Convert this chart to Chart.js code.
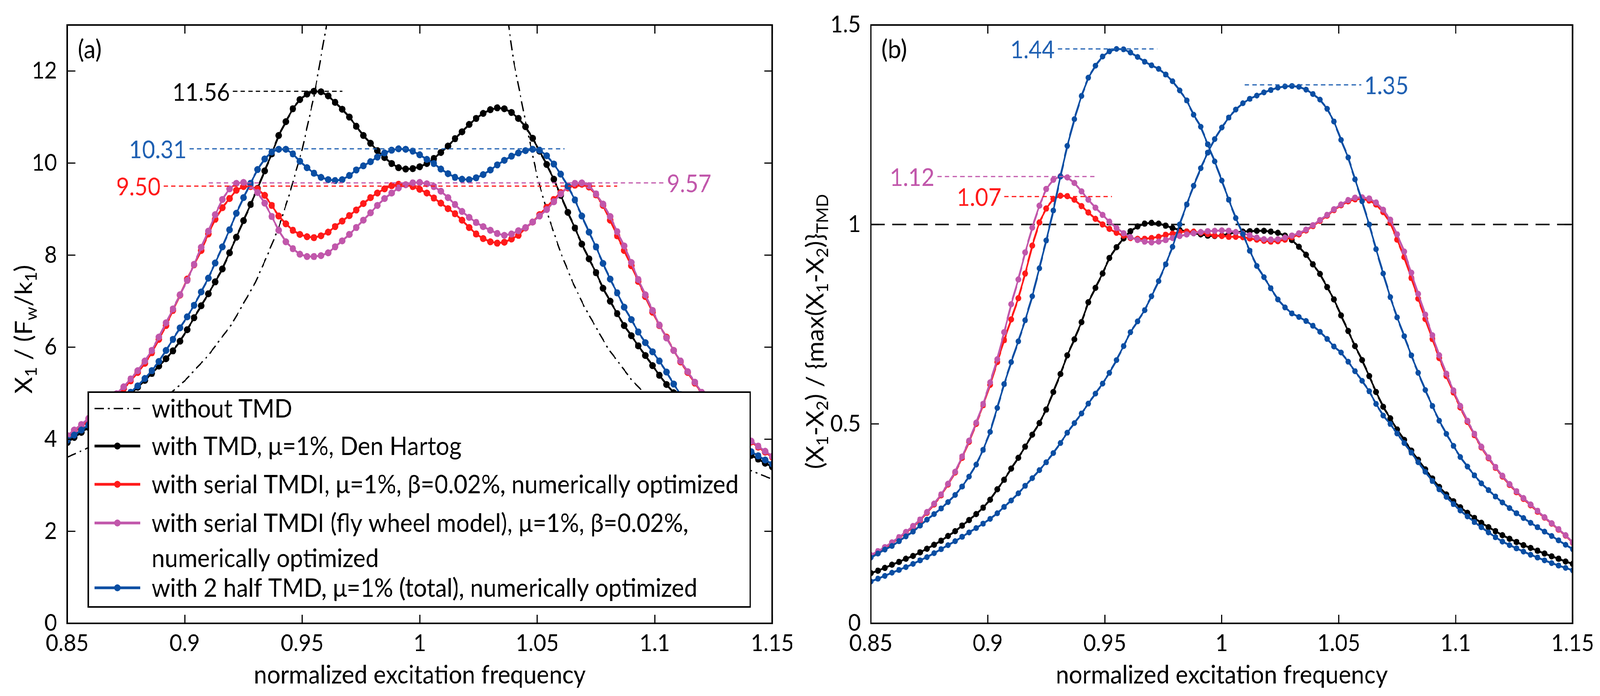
<!DOCTYPE html>
<html lang="en">
<head>
    <meta charset="UTF-8">
    <title>TMD / TMDI frequency response</title>
    <script src="https://cdn.jsdelivr.net/npm/chart.js"></script>
    <style>
        html, body { margin: 0; padding: 0; background: #fff; overflow: hidden; }
        #wrap { position: absolute; left: 0; top: 0; width: 4402px; height: 1782px; transform-origin: 0 0; }
        .panel { position: absolute; top: 0; height: 1782px; }
        #panelA { left: 0; width: 2200px; }
        #panelB { left: 2200px; width: 2202px; }
    </style>
</head>
<body>
<div id="wrap">
    <div class="panel" id="panelA"><canvas id="chartA" width="2200" height="1782"></canvas></div>
    <div class="panel" id="panelB"><canvas id="chartB" width="2202" height="1782"></canvas></div>
</div>

<script>
    // normalized excitation frequency (sample points of the computed curves)
    const freq = [
        0.850, 0.853, 0.856, 0.859, 0.862, 0.865, 0.868, 0.871, 0.874, 0.877,
        0.880, 0.883, 0.886, 0.889, 0.892, 0.895, 0.898, 0.901, 0.904, 0.907,
        0.910, 0.913, 0.916, 0.919, 0.922, 0.925, 0.928, 0.931, 0.934, 0.937,
        0.940, 0.943, 0.946, 0.949, 0.952, 0.955, 0.958, 0.961, 0.964, 0.967,
        0.970, 0.973, 0.976, 0.979, 0.982, 0.985, 0.988, 0.991, 0.994, 0.997,
        1.000, 1.003, 1.006, 1.009, 1.012, 1.015, 1.018, 1.021, 1.024, 1.027,
        1.030, 1.033, 1.036, 1.039, 1.042, 1.045, 1.048, 1.051, 1.054, 1.057,
        1.060, 1.063, 1.066, 1.069, 1.072, 1.075, 1.078, 1.081, 1.084, 1.087,
        1.090, 1.093, 1.096, 1.099, 1.102, 1.105, 1.108, 1.111, 1.114, 1.117,
        1.120, 1.123, 1.126, 1.129, 1.132, 1.135, 1.138, 1.141, 1.144, 1.147,
        1.150
    ];

    // (a) X1 / (Fw/k1)
    const freqNoTmd = [0.85, 0.86, 0.87, 0.88, 0.89, 0.90, 0.91, 0.92, 0.93, 0.935, 0.94, 0.945, 0.95, 0.955, 0.96, 0.965,
        1.0, 1.035, 1.04, 1.045, 1.05, 1.055, 1.06, 1.065, 1.07, 1.08, 1.09, 1.10, 1.11, 1.12, 1.13, 1.14, 1.15];
    const ampNoTmd = [3.61, 3.84, 4.12, 4.45, 4.83, 5.27, 5.82, 6.5, 7.4, 7.98, 8.6, 9.4, 10.3, 11.45, 12.9, 14.7,
        null, 14.0, 12.2, 10.9, 9.7, 8.8, 8.05, 7.42, 6.88, 5.98, 5.3, 4.76, 4.31, 3.94, 3.62, 3.34, 3.13];

    const ampDenHartog = [
        3.93, 4.04, 4.15, 4.26, 4.37, 4.49, 4.61, 4.73, 4.86, 4.99,
        5.13, 5.28, 5.43, 5.59, 5.75, 5.92, 6.13, 6.38, 6.64, 6.90,
        7.16, 7.42, 7.70, 8.05, 8.39, 8.75, 9.10, 9.45, 9.83, 10.20,
        10.60, 10.90, 11.18, 11.38, 11.50, 11.56, 11.55, 11.46, 11.32, 11.17,
        11.00, 10.80, 10.60, 10.43, 10.27, 10.12, 9.99, 9.90, 9.87, 9.88,
        9.92, 9.99, 10.10, 10.23, 10.37, 10.53, 10.68, 10.84, 10.97, 11.08,
        11.16, 11.20, 11.18, 11.10, 10.97, 10.79, 10.54, 10.26, 9.97, 9.65,
        9.30, 8.93, 8.59, 8.24, 7.92, 7.62, 7.28, 7.00, 6.73, 6.47,
        6.25, 6.03, 5.82, 5.60, 5.39, 5.19, 5.01, 4.84, 4.68, 4.53,
        4.39, 4.26, 4.14, 4.03, 3.92, 3.82, 3.73, 3.65, 3.57, 3.48,
        3.40
    ];
    const ampSerialTmdi = [
        4.03, 4.15, 4.27, 4.40, 4.53, 4.67, 4.81, 4.95, 5.10, 5.27,
        5.45, 5.65, 5.88, 6.17, 6.47, 6.80, 7.13, 7.48, 7.79, 8.10,
        8.46, 8.78, 9.03, 9.23, 9.41, 9.49, 9.49, 9.43, 9.30, 9.08,
        8.85, 8.68, 8.54, 8.45, 8.40, 8.38, 8.42, 8.50, 8.62, 8.74,
        8.86, 8.98, 9.12, 9.25, 9.35, 9.44, 9.51, 9.54, 9.53, 9.49,
        9.43, 9.35, 9.24, 9.13, 9.01, 8.90, 8.76, 8.60, 8.46, 8.36,
        8.29, 8.26, 8.28, 8.35, 8.43, 8.59, 8.72, 8.88, 9.04, 9.21,
        9.36, 9.46, 9.52, 9.54, 9.48, 9.31, 9.08, 8.76, 8.42, 8.10,
        7.77, 7.43, 7.10, 6.76, 6.47, 6.22, 5.93, 5.68, 5.45, 5.22,
        5.00, 4.81, 4.63, 4.46, 4.31, 4.18, 4.05, 3.94, 3.83, 3.72,
        3.61
    ];
    const ampFlyWheel = [
        4.08, 4.20, 4.32, 4.45, 4.58, 4.71, 4.85, 4.99, 5.14, 5.31,
        5.49, 5.70, 5.93, 6.22, 6.53, 6.83, 7.14, 7.45, 7.80, 8.17,
        8.52, 8.88, 9.21, 9.44, 9.56, 9.58, 9.51, 9.36, 9.13, 8.84,
        8.54, 8.29, 8.14, 8.02, 7.97, 7.97, 7.99, 8.05, 8.18, 8.31,
        8.45, 8.60, 8.76, 8.92, 9.08, 9.23, 9.35, 9.46, 9.53, 9.57,
        9.58, 9.55, 9.49, 9.39, 9.25, 9.10, 8.95, 8.82, 8.71, 8.62,
        8.54, 8.47, 8.43, 8.46, 8.53, 8.60, 8.72, 8.85, 8.99, 9.16,
        9.33, 9.48, 9.56, 9.57, 9.51, 9.33, 9.11, 8.84, 8.51, 8.20,
        7.84, 7.47, 7.14, 6.80, 6.48, 6.20, 5.93, 5.70, 5.47, 5.24,
        5.02, 4.83, 4.65, 4.48, 4.33, 4.20, 4.07, 3.96, 3.85, 3.74,
        3.63
    ];
    const ampTwoHalf = [
        3.98, 4.09, 4.20, 4.31, 4.42, 4.53, 4.65, 4.77, 4.89, 5.02,
        5.16, 5.32, 5.49, 5.69, 5.93, 6.17, 6.42, 6.66, 6.91, 7.20,
        7.50, 7.83, 8.18, 8.55, 8.91, 9.25, 9.56, 9.86, 10.09, 10.24,
        10.30, 10.30, 10.20, 10.04, 9.90, 9.78, 9.69, 9.64, 9.62, 9.64,
        9.73, 9.85, 9.94, 10.03, 10.13, 10.22, 10.28, 10.31, 10.30, 10.26,
        10.18, 10.08, 9.99, 9.87, 9.77, 9.69, 9.65, 9.64, 9.68, 9.75,
        9.85, 9.96, 10.06, 10.15, 10.22, 10.27, 10.30, 10.28, 10.16, 9.98,
        9.76, 9.50, 9.20, 8.85, 8.50, 8.18, 7.82, 7.48, 7.18, 6.87,
        6.60, 6.33, 6.10, 5.90, 5.70, 5.46, 5.20, 4.97, 4.78, 4.61,
        4.46, 4.32, 4.19, 4.08, 3.98, 3.89, 3.81, 3.73, 3.64, 3.55,
        3.46
    ];

    // (b) (X1-X2) / {max(X1-X2)}TMD
    const strokeDenHartog = [
        0.126, 0.132, 0.139, 0.147, 0.154, 0.162, 0.169, 0.178, 0.187, 0.197,
        0.207, 0.219, 0.231, 0.245, 0.259, 0.274, 0.290, 0.310, 0.336, 0.360,
        0.388, 0.415, 0.443, 0.473, 0.502, 0.536, 0.580, 0.625, 0.672, 0.712,
        0.755, 0.805, 0.841, 0.877, 0.916, 0.943, 0.965, 0.983, 0.995, 1.002,
        1.004, 1.002, 0.997, 0.991, 0.986, 0.982, 0.978, 0.975, 0.972, 0.971,
        0.972, 0.977, 0.980, 0.982, 0.983, 0.984, 0.984, 0.982, 0.979, 0.972,
        0.961, 0.944, 0.924, 0.900, 0.876, 0.843, 0.812, 0.772, 0.733, 0.695,
        0.660, 0.620, 0.580, 0.543, 0.514, 0.486, 0.460, 0.433, 0.410, 0.386,
        0.363, 0.342, 0.323, 0.306, 0.291, 0.277, 0.264, 0.252, 0.241, 0.231,
        0.221, 0.212, 0.204, 0.196, 0.189, 0.182, 0.175, 0.168, 0.162, 0.155,
        0.149
    ];
    const strokeSerialTmdi = [
        0.169, 0.179, 0.189, 0.201, 0.214, 0.227, 0.242, 0.258, 0.277, 0.298,
        0.321, 0.348, 0.378, 0.415, 0.455, 0.500, 0.547, 0.598, 0.655, 0.710,
        0.762, 0.815, 0.877, 0.947, 1.005, 1.040, 1.064, 1.072, 1.071, 1.062,
        1.046, 1.030, 1.014, 1.000, 0.989, 0.979, 0.972, 0.966, 0.964, 0.964,
        0.966, 0.969, 0.974, 0.977, 0.981, 0.982, 0.982, 0.979, 0.976, 0.972,
        0.971, 0.969, 0.969, 0.968, 0.965, 0.962, 0.959, 0.957, 0.958, 0.962,
        0.968, 0.975, 0.985, 0.996, 1.009, 1.022, 1.036, 1.048, 1.058, 1.063,
        1.064, 1.060, 1.050, 1.031, 1.004, 0.962, 0.918, 0.866, 0.814, 0.763,
        0.713, 0.665, 0.620, 0.579, 0.541, 0.505, 0.472, 0.441, 0.414, 0.390,
        0.368, 0.347, 0.329, 0.312, 0.296, 0.280, 0.265, 0.250, 0.235, 0.220,
        0.202
    ];
    const strokeFlyWheel = [
        0.171, 0.181, 0.191, 0.203, 0.216, 0.229, 0.244, 0.260, 0.279, 0.300,
        0.323, 0.350, 0.380, 0.418, 0.458, 0.503, 0.550, 0.604, 0.662, 0.730,
        0.800, 0.862, 0.930, 0.992, 1.047, 1.089, 1.112, 1.121, 1.118, 1.104,
        1.083, 1.062, 1.042, 1.024, 1.007, 0.991, 0.978, 0.968, 0.961, 0.957,
        0.955, 0.957, 0.961, 0.966, 0.971, 0.975, 0.978, 0.981, 0.983, 0.984,
        0.985, 0.984, 0.981, 0.977, 0.973, 0.967, 0.963, 0.962, 0.963, 0.967,
        0.972, 0.978, 0.987, 0.998, 1.011, 1.024, 1.038, 1.050, 1.061, 1.067,
        1.068, 1.065, 1.055, 1.037, 1.012, 0.975, 0.932, 0.879, 0.826, 0.774,
        0.722, 0.672, 0.626, 0.584, 0.545, 0.508, 0.475, 0.443, 0.416, 0.392,
        0.370, 0.349, 0.331, 0.314, 0.298, 0.282, 0.266, 0.251, 0.236, 0.221,
        0.203
    ];
    const strokeHalfLow = [
        0.165, 0.175, 0.185, 0.194, 0.206, 0.218, 0.230, 0.245, 0.260, 0.274,
        0.288, 0.304, 0.322, 0.343, 0.368, 0.398, 0.435, 0.480, 0.540, 0.600,
        0.655, 0.707, 0.760, 0.820, 0.890, 0.960, 1.035, 1.120, 1.197, 1.264,
        1.322, 1.368, 1.398, 1.421, 1.434, 1.440, 1.439, 1.431, 1.420, 1.408,
        1.399, 1.390, 1.376, 1.359, 1.336, 1.311, 1.275, 1.245, 1.201, 1.158,
        1.110, 1.062, 1.016, 0.976, 0.934, 0.896, 0.868, 0.840, 0.812, 0.792,
        0.777, 0.768, 0.758, 0.746, 0.731, 0.713, 0.694, 0.679, 0.656, 0.632,
        0.608, 0.582, 0.550, 0.521, 0.500, 0.476, 0.452, 0.428, 0.404, 0.380,
        0.357, 0.336, 0.317, 0.299, 0.283, 0.268, 0.254, 0.241, 0.228, 0.216,
        0.205, 0.196, 0.188, 0.180, 0.172, 0.165, 0.158, 0.151, 0.145, 0.139,
        0.133
    ];
    const strokeHalfHigh = [
        0.105, 0.112, 0.119, 0.127, 0.134, 0.141, 0.149, 0.158, 0.166, 0.176,
        0.186, 0.196, 0.206, 0.217, 0.228, 0.239, 0.250, 0.262, 0.276, 0.292,
        0.308, 0.326, 0.345, 0.364, 0.384, 0.404, 0.427, 0.452, 0.478, 0.502,
        0.526, 0.551, 0.576, 0.601, 0.628, 0.660, 0.695, 0.730, 0.757, 0.785,
        0.820, 0.858, 0.900, 0.944, 1.000, 1.050, 1.097, 1.141, 1.180, 1.214,
        1.243, 1.268, 1.288, 1.304, 1.315, 1.323, 1.331, 1.337, 1.343, 1.346,
        1.347, 1.345, 1.338, 1.327, 1.313, 1.290, 1.258, 1.212, 1.168, 1.113,
        1.058, 1.000, 0.938, 0.877, 0.818, 0.767, 0.720, 0.672, 0.628, 0.585,
        0.545, 0.508, 0.475, 0.445, 0.417, 0.393, 0.371, 0.351, 0.334, 0.318,
        0.303, 0.289, 0.276, 0.264, 0.252, 0.241, 0.230, 0.219, 0.208, 0.197,
        0.186
    ];

    const xTicks = [0.85, 0.9, 0.95, 1, 1.05, 1.1, 1.15];
    const yTicksA = [0, 2, 4, 6, 8, 10, 12];
    const yTicksB = [0, 0.5, 1, 1.5];
    const peakValuesA = [11.56, 10.31, 9.50, 9.57];
    const peakValuesB = [1.44, 1.12, 1.07, 1.35];

    const legendLines = [
        'without TMD',
        'with TMD, \u03bc=1%, Den Hartog',
        'with serial TMDI, \u03bc=1%, \u03b2=0.02%, numerically optimized',
        'with serial TMDI (fly wheel model), \u03bc=1%, \u03b2=0.02%,',
        'numerically optimized',
        'with 2 half TMD, \u03bc=1% (total), numerically optimized'
    ];

    const BLACK = '#000000', RED = '#ff1a1a', PINK = '#c157ab', BLUE = '#0a4ea3', BLUE_TXT = '#1f60b2';
    const FONT = 'Lato, "Open Sans", sans-serif';

    // the drawing is laid out for 4402 x 1782; stretch it onto whatever the window is
    function fitPage() {
        const w = window.innerWidth, h = window.innerHeight;
        document.getElementById('wrap').style.transform = 'scale(' + (w / 4402) + ',' + (h / 1782) + ')';
    }
    fitPage();

    Chart.defaults.font.family = FONT;
    Chart.defaults.color = '#000';

    const pts = (xs, ys) => xs.map((x, i) => ({ x: x, y: ys[i] }));

    function curve(label, ys, color, order, radius) {
        return {
            label: label, data: pts(freq, ys), order: order,
            borderColor: color, backgroundColor: color, borderWidth: 5,
            pointRadius: radius, pointHoverRadius: radius, pointBorderWidth: 0,
            pointBackgroundColor: color, tension: 0, fill: false
        };
    }

    function hline(ctx, x1, x2, y) { ctx.beginPath(); ctx.moveTo(x1, y); ctx.lineTo(x2, y); ctx.stroke(); }
    function vline(ctx, x, y1, y2) { ctx.beginPath(); ctx.moveTo(x, y1); ctx.lineTo(x, y2); ctx.stroke(); }

    // rotated axis title with subscripts
    function drawRich(ctx, parts, cx, cy, size) {
        const main = size + 'px ' + FONT, sub = Math.round(size * 0.68) + 'px ' + FONT;
        let w = 0;
        const widths = parts.map(p => { ctx.font = p.sub ? sub : main; const m = ctx.measureText(p.t).width; w += m; return m; });
        ctx.save();
        ctx.translate(cx, cy);
        ctx.rotate(-Math.PI / 2);
        ctx.textAlign = 'left';
        ctx.textBaseline = 'middle';
        ctx.fillStyle = '#000';
        let xx = -w / 2;
        parts.forEach((p, i) => {
            ctx.font = p.sub ? sub : main;
            ctx.fillText(p.t, xx, p.sub ? size * 0.3 : 0);
            xx += widths[i];
        });
        ctx.restore();
    }

    function drawLegend(ctx, L, datasets) {
        ctx.save();
        ctx.fillStyle = '#fff';
        ctx.fillRect(L.left, L.top, L.right - L.left, L.bottom - L.top);
        ctx.strokeStyle = '#000';
        ctx.lineWidth = 4;
        ctx.strokeRect(L.left, L.top, L.right - L.left, L.bottom - L.top);
        ctx.font = L.fontSize + 'px ' + FONT;
        ctx.textAlign = 'left';
        ctx.textBaseline = 'middle';
        L.rows.forEach(r => {
            const yy = L.top + r.dy;
            if (r.ds !== null) {
                const ds = datasets[r.ds];
                ctx.strokeStyle = ds.borderColor;
                ctx.lineWidth = ds.pointRadius > 0 ? 7 : 3.5;
                ctx.setLineDash(ds.borderDash || []);
                hline(ctx, L.left + 17, L.left + 143, yy);
                ctx.setLineDash([]);
                if (ds.pointRadius > 0) {
                    ctx.fillStyle = ds.borderColor;
                    ctx.beginPath();
                    ctx.arc(L.left + 80, yy, 9, 0, Math.PI * 2);
                    ctx.fill();
                }
            }
            ctx.fillStyle = '#000';
            ctx.fillText(legendLines[r.line], L.left + 174, yy + 2);
        });
        ctx.restore();
    }

    const panelDeco = {
        id: 'panelDeco',
        beforeDatasetsDraw(chart, args, o) {
            if (o.refLine == null) return;
            const { ctx, chartArea: a } = chart;
            const py = chart.scales.y.getPixelForValue(o.refLine);
            ctx.save();
            ctx.strokeStyle = '#1a1a1a';
            ctx.lineWidth = 4;
            ctx.setLineDash([38, 21]);
            hline(ctx, a.left, a.right, py);
            ctx.restore();
        },
        afterDatasetsDraw(chart, args, o) {
            const { ctx, chartArea: a, scales: { x, y } } = chart;
            ctx.save();

            // peak levels
            ctx.font = '62px ' + FONT;
            ctx.textBaseline = 'middle';
            o.peaks.forEach(p => {
                const py = y.getPixelForValue(p.value);
                const x1 = x.getPixelForValue(p.from), x2 = x.getPixelForValue(p.to);
                ctx.strokeStyle = p.color;
                ctx.fillStyle = p.color;
                ctx.lineWidth = 3;
                ctx.setLineDash([12, 9]);
                hline(ctx, x1, x2, py);
                ctx.setLineDash([]);
                const label = p.value.toFixed(2);
                if (p.side === 'left') {
                    ctx.textAlign = 'right';
                    ctx.fillText(label, x1 - 8, py + 4);
                } else {
                    ctx.textAlign = 'left';
                    ctx.fillText(label, x2 + 8, py + 4);
                }
            });

            // box and inward ticks on all sides
            ctx.strokeStyle = '#000';
            ctx.lineWidth = 4;
            ctx.strokeRect(a.left, a.top, a.right - a.left, a.bottom - a.top);
            ctx.lineWidth = 3;
            const tl = 22;
            xTicks.forEach(v => {
                const px = x.getPixelForValue(v);
                vline(ctx, px, a.bottom, a.bottom - tl);
                vline(ctx, px, a.top, a.top + tl);
            });
            o.yTicks.forEach(v => {
                const py = y.getPixelForValue(v);
                hline(ctx, a.left, a.left + tl, py);
                hline(ctx, a.right, a.right - tl, py);
            });

            // panel tag
            ctx.fillStyle = '#000';
            ctx.font = '66px ' + FONT;
            ctx.textAlign = 'left';
            ctx.textBaseline = 'middle';
            ctx.fillText(o.tag, a.left + 29, a.top + 64);

            // y axis title
            drawRich(ctx, o.yTitle, o.yTitleX, o.yTitleY, o.yTitleSize);

            if (o.legend) drawLegend(ctx, o.legend, chart.data.datasets);
            ctx.restore();
        }
    };

    function xScale() {
        return {
            type: 'linear', min: 0.85, max: 1.15,
            afterBuildTicks: s => { s.ticks = xTicks.map(v => ({ value: v })); },
            afterFit: s => { s.height = 186; },
            grid: { display: false, drawTicks: false },
            border: { display: false },
            ticks: { font: { size: 60 }, padding: 16, maxRotation: 0, autoSkip: false,
                callback: v => String(Number(v.toFixed(2))) },
            title: { display: true, text: 'normalized excitation frequency', font: { size: 65 },
                padding: { top: 0, bottom: 14 } }
        };
    }

    function yScale(max, ticks, width) {
        return {
            type: 'linear', min: 0, max: max,
            afterBuildTicks: s => { s.ticks = ticks.map(v => ({ value: v })); },
            afterFit: s => { s.width = width; },
            grid: { display: false, drawTicks: false },
            border: { display: false },
            ticks: { font: { size: 60 }, padding: 28, autoSkip: false,
                callback: v => String(Number(v.toFixed(2))) }
        };
    }

    const common = {
        responsive: false,
        animation: false,
        devicePixelRatio: 1,
        events: []
    };

    // (a) displacement of main structure
    const dsA = [
        { label: legendLines[0], data: pts(freqNoTmd, ampNoTmd), order: 5, borderColor: BLACK, borderWidth: 3.5,
          borderDash: [26, 11, 5, 11], pointRadius: 0, tension: 0, fill: false, spanGaps: false },
        curve(legendLines[1], ampDenHartog, BLACK, 4, 9),
        curve(legendLines[2], ampSerialTmdi, RED, 3, 9),
        curve(legendLines[3], ampFlyWheel, PINK, 2, 9),
        curve(legendLines[5], ampTwoHalf, BLUE, 1, 9)
    ];

    new Chart(document.getElementById('chartA'), {
        type: 'line',
        data: { datasets: dsA },
        options: Object.assign({}, common, {
            layout: { padding: { top: 59, right: 71, left: 0, bottom: 0 } },
            scales: { x: xScale(), y: yScale(13, yTicksA, 185) },
            plugins: {
                legend: { display: false },
                tooltip: { enabled: false },
                panelDeco: {
                    tag: '(a)',
                    yTicks: yTicksA,
                    yTitle: [{ t: 'X' }, { t: '1', sub: true }, { t: ' / (F' }, { t: 'w', sub: true },
                             { t: '/k' }, { t: '1', sub: true }, { t: ')' }],
                    yTitleX: 67, yTitleY: 843, yTitleSize: 66,
                    peaks: [
                        { value: peakValuesA[0], from: 0.9205, to: 0.967, color: BLACK, side: 'left' },
                        { value: peakValuesA[1], from: 0.902, to: 1.0616, color: BLUE_TXT, side: 'left' },
                        { value: peakValuesA[2], from: 0.891, to: 1.084, color: RED, side: 'left' },
                        { value: peakValuesA[3], from: 0.9102, to: 1.1039, color: PINK, side: 'right' }
                    ],
                    legend: {
                        left: 243, top: 1004, right: 2064, bottom: 1554, fontSize: 65,
                        rows: [
                            { ds: 0, line: 0, dy: 42 },
                            { ds: 1, line: 1, dy: 138 },
                            { ds: 2, line: 2, dy: 236 },
                            { ds: 3, line: 3, dy: 335 },
                            { ds: null, line: 4, dy: 425 },
                            { ds: 4, line: 5, dy: 501 }
                        ]
                    }
                }
            }
        }),
        plugins: [panelDeco]
    });

    // (b) stroke of the damper, normalized by the Den Hartog TMD maximum
    const dsB = [
        curve(legendLines[1], strokeDenHartog, BLACK, 4, 8),
        curve(legendLines[2], strokeSerialTmdi, RED, 3, 8),
        curve(legendLines[3], strokeFlyWheel, PINK, 2, 8),
        curve(legendLines[5], strokeHalfLow, BLUE, 1, 7.5),
        curve(legendLines[5], strokeHalfHigh, BLUE, 1, 7.5)
    ];

    new Chart(document.getElementById('chartB'), {
        type: 'line',
        data: { datasets: dsB },
        options: Object.assign({}, common, {
            layout: { padding: { top: 60, right: 65, left: 0, bottom: 0 } },
            scales: { x: xScale(), y: yScale(1.5, yTicksB, 196) },
            plugins: {
                legend: { display: false },
                tooltip: { enabled: false },
                panelDeco: {
                    tag: '(b)',
                    refLine: 1,
                    yTicks: yTicksB,
                    yTitle: [{ t: '(X' }, { t: '1', sub: true }, { t: '-X' }, { t: '2', sub: true },
                             { t: ') / {max(X' }, { t: '1', sub: true }, { t: '-X' }, { t: '2', sub: true },
                             { t: ')}' }, { t: 'TMD', sub: true }],
                    yTitleX: 44, yTitleY: 849, yTitleSize: 65,
                    peaks: [
                        { value: peakValuesB[0], from: 0.9299, to: 0.9724, color: BLUE_TXT, side: 'left' },
                        { value: peakValuesB[1], from: 0.8784, to: 0.9461, color: PINK, side: 'left' },
                        { value: peakValuesB[2], from: 0.907, to: 0.9531, color: RED, side: 'left' },
                        { value: peakValuesB[3], from: 1.0098, to: 1.0596, color: BLUE_TXT, side: 'right' }
                    ]
                }
            }
        }),
        plugins: [panelDeco]
    });
</script>
</body>
</html>
